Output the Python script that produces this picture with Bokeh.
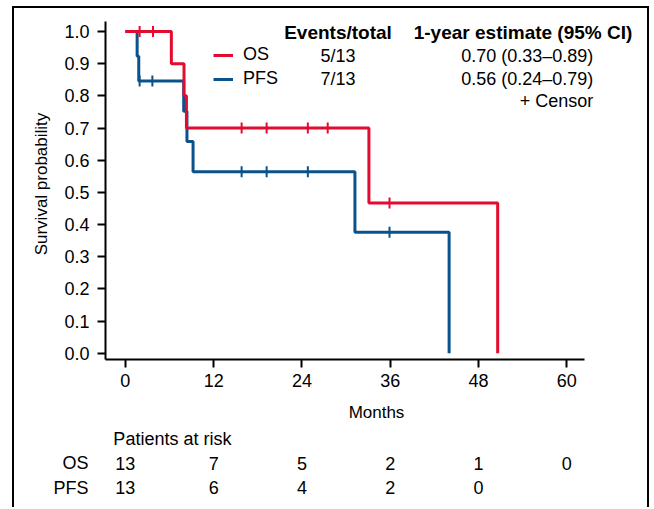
import numpy as np
from bokeh.plotting import figure
from bokeh.layouts import column
from bokeh.models import Range1d, FixedTicker, PrintfTickFormatter, Label, Legend, LegendItem
from bokeh.core.properties import value
from bokeh.embed import file_html
from bokeh.resources import INLINE

# ---------------- data ----------------
os_times = [0.0, 6.25, 7.97, 8.3, 33.1, 50.6]
os_surv = [1.0, 0.90, 0.80, 0.70, 0.467, 0.0]
os_censor_times = [1.94, 3.76, 15.8, 19.2, 24.8, 27.5, 35.9]
os_censor_surv = [1.0, 1.0, 0.70, 0.70, 0.70, 0.70, 0.467]

pfs_times = [0.0, 1.6, 1.82, 7.93, 8.37, 9.2, 31.2, 44.0]
pfs_surv = [1.0, 0.923, 0.846, 0.752, 0.658, 0.564, 0.376, 0.0]
pfs_censor_times = [1.94, 3.67, 15.8, 19.2, 24.8, 35.9]
pfs_censor_surv = [0.846, 0.846, 0.564, 0.564, 0.564, 0.376]

series_names = ["OS", "PFS"]
events_total = ["5/13", "7/13"]
one_year_estimates = ["0.70 (0.33\u20130.89)", "0.56 (0.24\u20130.79)"]

x_ticks = [0, 12, 24, 36, 48, 60]
y_ticks = [0.0, 0.1, 0.2, 0.3, 0.4, 0.5, 0.6, 0.7, 0.8, 0.9, 1.0]
risk_times_os = [0, 12, 24, 36, 48, 60]
os_at_risk = [13, 7, 5, 2, 1, 0]
risk_times_pfs = [0, 12, 24, 36, 48]
pfs_at_risk = [13, 6, 4, 2, 0]

# ---------------- style ----------------
RED = "#E30B2F"
BLUE = "#0A528C"
FONT = "Liberation Sans"
FS = "18px"
BOLD_FS = "19px"
TICK_FS = "18px"

PX_PER_MONTH = 479 / 65.1
X0, X_AXIS_END = -2.7, 62.4
X_END = X0 + 542 / PX_PER_MONTH

p = figure(width=633, height=419,
           x_range=Range1d(X0, X_END), y_range=Range1d(-0.0196, 1.0715),
           output_backend="svg", toolbar_location=None,
           min_border_left=91, min_border_right=0, min_border_top=0, min_border_bottom=68)
p.outline_line_color = None
p.grid.visible = False
p.background_fill_alpha = 0
p.border_fill_alpha = 0

for ax in (p.xaxis[0], p.yaxis[0]):
    ax.axis_line_width = 2
    ax.axis_line_color = "black"
    ax.major_tick_line_width = 2
    ax.major_tick_line_color = "black"
    ax.major_tick_out = 8
    ax.major_tick_in = 0
    ax.minor_tick_out = 0
    ax.minor_tick_in = 0
    ax.major_label_text_font = FONT
    ax.major_label_text_font_size = TICK_FS
    ax.major_label_text_color = "black"
    ax.axis_label_text_font = FONT
    ax.axis_label_text_font_size = "17px"
    ax.axis_label_text_font_style = "normal"
    ax.axis_label_text_color = "black"

p.xaxis.ticker = FixedTicker(ticks=x_ticks)
p.yaxis.ticker = FixedTicker(ticks=y_ticks)
p.xaxis.bounds = (X0, X_AXIS_END)
p.yaxis.bounds = (-0.0196, 1.031)
p.yaxis.formatter = PrintfTickFormatter(format="%.1f")
p.xaxis.axis_label = "Months"
p.yaxis.axis_label = "Survival probability"
p.yaxis.major_label_standoff = 8
p.xaxis.major_label_standoff = 6
p.yaxis.axis_label_standoff = 10
p.xaxis.axis_label_standoff = 13

# ---------------- curves ----------------
pfs_r = p.step(pfs_times, pfs_surv, mode="after", line_color=BLUE, line_width=3)
os_r = p.step(os_times, os_surv, mode="after", line_color=RED, line_width=3)
p.scatter(pfs_censor_times, pfs_censor_surv, marker="dash", angle=np.pi / 2, size=11,
          line_color=BLUE, line_width=2)
p.scatter(os_censor_times, os_censor_surv, marker="dash", angle=np.pi / 2, size=11,
          line_color=RED, line_width=2)

# ---------------- legend ----------------
legend = Legend(items=[LegendItem(label=series_names[0], renderers=[os_r]),
                       LegendItem(label=series_names[1], renderers=[pfs_r])],
                location=(108, 270), orientation="vertical",
                border_line_color=None, background_fill_alpha=0,
                padding=0, margin=0, spacing=3,
                glyph_width=20, glyph_height=20, label_height=20, label_standoff=10,
                label_text_font=FONT, label_text_font_size=FS, label_text_color="black")
p.add_layout(legend)

def lab(x, y, text, align, bold=False):
    p.add_layout(Label(x=x, y=y, text=text, text_align=align, text_baseline="middle",
                       text_font=FONT, text_font_size=BOLD_FS if bold else FS,
                       text_color="black", text_font_style="bold" if bold else "normal"))

lab(28.9, 0.997, "Events/total", "center", bold=True)
lab(68.9, 0.997, "1-year estimate (95% CI)", "right", bold=True)
row_y = [0.9226, 0.851]
for i in range(2):
    lab(28.9, row_y[i], events_total[i], "center")
    lab(63.6, row_y[i], one_year_estimates[i], "right")
lab(63.6, 0.7825, "+ Censor", "right")

# ---------------- risk table (second figure, same months axis) ----------------
q = figure(width=633, height=80,
           x_range=p.x_range, y_range=Range1d(0.184, 3.449),
           x_axis_type=None,
           output_backend="svg", toolbar_location=None,
           min_border_left=91, min_border_right=0, min_border_top=0, min_border_bottom=0)
q.outline_line_color = None
q.grid.visible = False
q.background_fill_alpha = 0
q.border_fill_alpha = 0
q.yaxis.ticker = FixedTicker(ticks=[2, 1])
q.yaxis.major_label_overrides = {2: series_names[0], 1: series_names[1]}
q.yaxis.axis_line_color = None
q.yaxis.major_tick_line_color = None
q.yaxis.minor_tick_line_color = None
q.yaxis.major_tick_out = 0
q.yaxis.major_label_standoff = 17
q.yaxis.major_label_text_font = FONT
q.yaxis.major_label_text_font_size = FS
q.yaxis.major_label_text_color = "black"

txt = dict(text_font=value(FONT), text_font_size=value(FS), text_color="black",
           text_baseline="middle")
q.text(x=[-1.63], y=[3], text=["Patients at risk"], text_align="left", **txt)
q.text(x=risk_times_os, y=[2] * len(risk_times_os), text=[str(v) for v in os_at_risk],
       text_align="center", **txt)
q.text(x=risk_times_pfs, y=[1] * len(risk_times_pfs), text=[str(v) for v in pfs_at_risk],
       text_align="center", **txt)

layout = column(p, q, spacing=0,
                styles={"border-left": "2px solid black", "border-top": "2px solid black",
                        "border-right": "2px solid black",
                        "margin-left": "12px", "margin-top": "6px"})

open("out.html", "w").write(file_html(layout, INLINE))
